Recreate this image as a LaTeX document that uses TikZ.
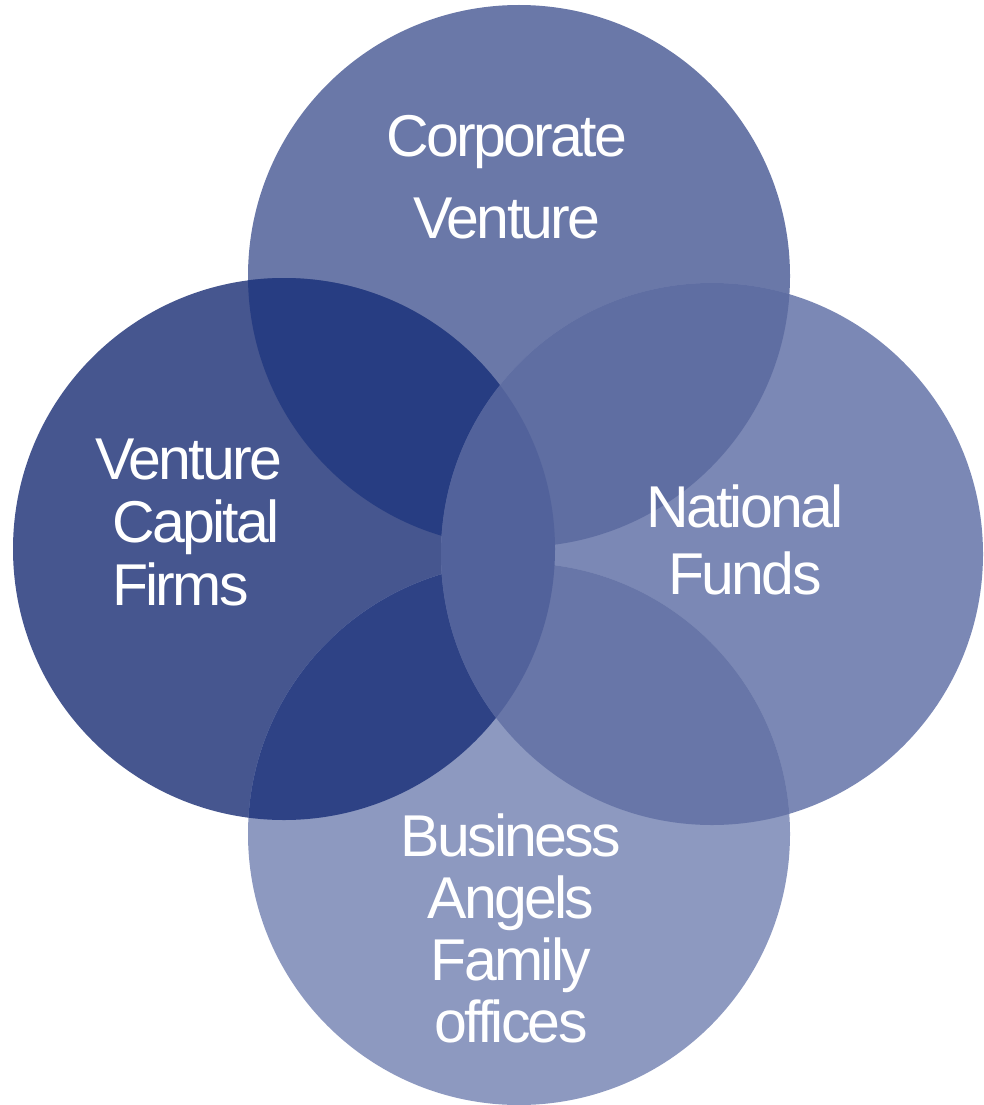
\documentclass[tikz,border=0pt]{standalone}
\usepackage{fontspec}
\setmainfont{Liberation Sans}[LetterSpace=-4.6]
\usepackage{tikz}
\usetikzlibrary{positioning}
\definecolor{topc}{HTML}{6A78A8}
\definecolor{leftc}{HTML}{46568F}
\definecolor{rightc}{HTML}{7B88B5}
\definecolor{botc}{HTML}{8D99C0}
\definecolor{topleft}{HTML}{273D82}
\definecolor{leftbot}{HTML}{2E4285}
\definecolor{topright}{HTML}{5F6EA2}
\definecolor{rightbot}{HTML}{6876A8}
\definecolor{lens}{HTML}{52629B}
\tikzset{lbl/.style={text=white, align=center, inner sep=0pt, font=\fontsize{59}{62}\selectfont}}
\newcommand{\circT}{(519,276) circle (271)}
\newcommand{\circL}{(284,549) circle (271)}
\newcommand{\circR}{(712,554) circle (271)}
\newcommand{\circB}{(519,834) circle (271)}
\begin{document}
\begin{tikzpicture}[x=1pt, y=-1pt]
\useasboundingbox (0,0) rectangle (983,1105);
% base circles
\fill[topc] \circT;
\fill[leftc] \circL;
\fill[rightc] \circR;
\fill[botc] \circB;
% overlaps
\begin{scope}
\clip \circT;
\fill[topleft] \circL;
\fill[topright] \circR;
\end{scope}
\begin{scope}
\clip \circB;
\fill[leftbot] \circL;
\fill[rightbot] \circR;
\end{scope}
\begin{scope}
\clip \circL;
\fill[lens] \circR;
\end{scope}
% labels
\node[lbl, font=\fontsize{59}{82}\selectfont] (corp) at (507,177) {Corporate\\Venture};
\node[lbl, align=left, anchor=west, font=\fontsize{59}{63}\selectfont] (vcf) at (95,522)
  {Venture\\\hspace*{17pt}Capital\\\hspace*{17pt}Firms};
\node[lbl, font=\fontsize{59}{67}\selectfont] (natf) at (745,540) {National\\Funds};
\node[lbl] (angels) at (511,928) {Business\\Angels\\Family\\offices};
\end{tikzpicture}
\end{document}
